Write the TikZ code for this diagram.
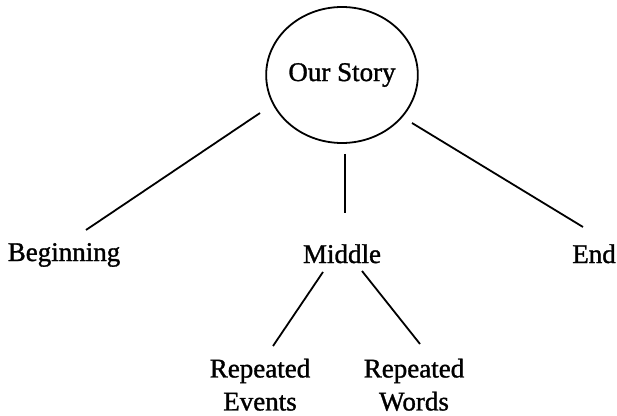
\documentclass[tikz,border=0pt]{standalone}
\usepackage{fontspec}
\setmainfont{Liberation Serif}[BoldFont=Liberation Serif, BoldFeatures={FakeBold=1.2}]
\usetikzlibrary{calc,shapes.geometric}
\begin{document}
\begin{tikzpicture}[x=1pt,y=1pt,
  label text/.style={font=\fontsize{27}{33}\selectfont\bfseries, inner sep=0pt},
  link/.style={line width=1.8pt}]
\useasboundingbox (0,0) rectangle (617,415);
% root of the tree
\node[ellipse, draw, line width=1.8pt, minimum width=150pt, minimum height=136pt,
      inner sep=0pt, label text] (story) at (342,340) {Our Story};
% three parts of the story
\node[label text, anchor=base] (beg) at (64,154) {Beginning};
\node[label text, anchor=base] (mid) at (342,152) {Middle};
\node[label text, anchor=base] (end) at (594,152) {End};
% what the middle is made of
\node[label text, anchor=north, align=center] (events) at (260,56.5) {Repeated\\Events};
\node[label text, anchor=north, align=center] (words) at (414,56.5) {Repeated\\Words};
% connectors
\draw[link] ($(story)+(-82,-38)$) -- ($(beg.base)+(22,31)$);
\draw[link] ($(story)+(3,-79)$) -- ($(mid.base)+(3,50)$);
\draw[link] ($(story)+(70,-48)$) -- ($(end.base)+(-11,36)$);
\draw[link] ($(mid.base)+(-19,-9)$) -- ($(events.north)+(13,12.5)$);
\draw[link] ($(mid.base)+(20,-8)$) -- ($(words.north)+(6,14.5)$);
\end{tikzpicture}
\end{document}
